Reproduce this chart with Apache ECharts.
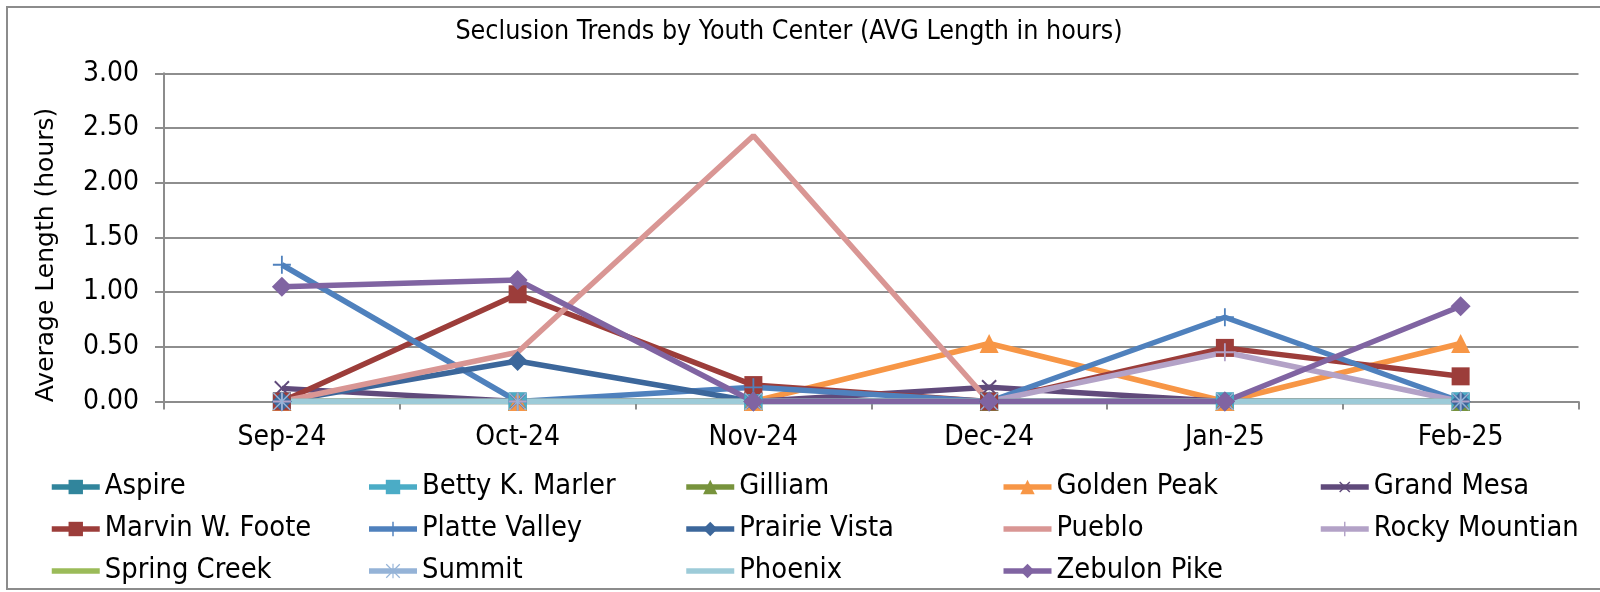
<!DOCTYPE html>
<html>
<head>
<meta charset="utf-8">
<script src="https://cdn.jsdelivr.net/npm/echarts@6/dist/echarts.min.js"></script>
<style>
html,body{margin:0;padding:0;background:#fff;}
#chart{width:1600px;height:592px;}
</style>
</head>
<body>
<div id="chart"></div>
<script>
const months = ['Sep-24', 'Oct-24', 'Nov-24', 'Dec-24', 'Jan-25', 'Feb-25'];
const yTicks = [0, 0.5, 1, 1.5, 2, 2.5, 3];

const aspire        = [0, 0, 0, 0, 0, 0];
const bettyKMarler  = [0, 0, 0, 0, 0, 0];
const gilliam       = [0, 0, 0, 0, 0, 0];
const goldenPeak    = [0, 0, 0, 0.53, 0, 0.53];
const grandMesa     = [0.12, 0, 0, 0.13, 0, 0];
const marvinWFoote  = [0, 0.98, 0.15, 0, 0.49, 0.23];
const platteValley  = [1.25, 0, 0.13, 0, 0.77, 0];
const prairieVista  = [0, 0.37, 0, 0, 0, 0];
const pueblo        = [0, 0.45, 2.43, 0, 0, 0];
const rockyMountain = [0, 0, 0, 0, 0.45, 0];
const springCreek   = [0, 0, 0, 0, 0, 0];
const summit        = [0, 0, 0, 0, 0, 0];
const phoenix       = [0, 0, 0, 0, 0, 0];
const zebulonPike   = [1.05, 1.11, 0, 0, 0, 0.87];

const seriesNames = ['Aspire', 'Betty K. Marler', 'Gilliam', 'Golden Peak', 'Grand Mesa',
  'Marvin W. Foote', 'Platte Valley', 'Prairie Vista', 'Pueblo', 'Rocky Mountian',
  'Spring Creek', 'Summit', 'Phoenix', 'Zebulon Pike'];
const seriesData = [aspire, bettyKMarler, gilliam, goldenPeak, grandMesa, marvinWFoote,
  platteValley, prairieVista, pueblo, rockyMountain, springCreek, summit, phoenix, zebulonPike];

const PLUS = 'path://M9,0H11V9H20V11H11V20H9V11H0V9H9Z';
const STAR = 'path://M9.2,0H10.8V20H9.2Z M0,1.2L1.2,0L20,18.8L18.8,20Z M18.8,0L20,1.2L1.2,20L0,18.8Z';
const styles = [
  {color: '#31859C', symbol: 'rect', size: 18},
  {color: '#4BACC6', symbol: 'rect', size: 18},
  {color: '#77933C', symbol: 'triangle', size: 19},
  {color: '#F79646', symbol: 'triangle', size: 19},
  {color: '#604A7B', symbol: PLUS, size: 20, rotate: 45},
  {color: '#9C3D3A', symbol: 'rect', size: 18},
  {color: '#4F81BD', symbol: PLUS, size: 18},
  {color: '#3C679B', symbol: 'diamond', size: 20},
  {color: '#D99694', symbol: 'none', size: 0},
  {color: '#B3A2C7', symbol: PLUS, size: 18},
  {color: '#9BBB59', symbol: 'none', size: 0},
  {color: '#95B3D7', symbol: STAR, size: 18},
  {color: '#9DCBD8', symbol: 'none', size: 0},
  {color: '#8064A2', symbol: 'diamond', size: 20}
];

const condensed = '"DejaVu Sans Condensed", "DejaVu Sans", sans-serif';

const series = seriesNames.map((name, i) => {
  const noMarker = styles[i].symbol === 'none';
  return {
    name: name,
    type: 'line',
    data: seriesData[i],
    symbol: noMarker ? 'line' : styles[i].symbol,
    symbolSize: noMarker ? 1 : styles[i].size,
    symbolRotate: styles[i].rotate || 0,
    showSymbol: !noMarker,
    showAllSymbol: true,
    lineStyle: {color: styles[i].color, width: 5.5},
    itemStyle: {color: styles[i].color, borderWidth: 0},
    emphasis: {disabled: true},
    animation: false
  };
});

// last legend column gets a narrower text box so five items fit on a row
const legendData = seriesNames.map((name, i) =>
  (i % 5 === 4) ? {name: name, textStyle: {width: 200}} : {name: name});

const chart = echarts.init(document.getElementById('chart'), null, {renderer: 'canvas'});
chart.setOption({
  animation: false,
  backgroundColor: '#ffffff',
  graphic: [{
    type: 'rect',
    shape: {x: 7, y: 7, width: 1620, height: 582},
    style: {fill: 'none', stroke: '#8c8c8c', lineWidth: 2},
    silent: true
  }, {
    type: 'text',
    x: 46,
    y: 255,
    rotation: Math.PI / 2,
    silent: true,
    style: {
      text: 'Average Length (hours)',
      font: '25px "DejaVu Sans", Verdana, sans-serif',
      fill: '#000',
      textAlign: 'center',
      textVerticalAlign: 'middle'
    }
  }],
  title: {
    text: 'Seclusion Trends by Youth Center (AVG Length in hours)',
    left: 784,
    top: 14,
    textAlign: 'center',
    textStyle: {fontFamily: condensed, fontSize: 26.6, fontWeight: 'normal', color: '#000'}
  },
  legend: {
    data: legendData,
    left: 49,
    top: 466,
    width: 1551,
    padding: 0,
    itemGap: 0,
    itemWidth: 48,
    itemHeight: 18,
    lineStyle: {width: 5.5},
    textStyle: {fontFamily: condensed, fontSize: 28.8, color: '#000', width: 261.5, lineHeight: 42}
  },
  grid: {left: 164, right: 21.5, top: 73.3, bottom: 190.5, containLabel: false},
  xAxis: {
    type: 'category',
    data: months,
    boundaryGap: true,
    axisLine: {lineStyle: {color: '#8c8c8c', width: 2}},
    axisTick: {show: true, interval: 0, length: 8, lineStyle: {color: '#8c8c8c', width: 2}},
    axisLabel: {fontFamily: condensed, fontSize: 28, color: '#000', margin: 22, interval: 0},
    splitLine: {show: false}
  },
  yAxis: {
    type: 'value',
    min: yTicks[0],
    max: yTicks[yTicks.length - 1],
    interval: 0.5,
    axisLine: {show: true, lineStyle: {color: '#8c8c8c', width: 2}},
    axisTick: {show: true, length: 9, lineStyle: {color: '#8c8c8c', width: 2}},
    axisLabel: {fontFamily: condensed, fontSize: 28, color: '#000', margin: 25,
      formatter: v => v.toFixed(2)},
    splitLine: {show: true, lineStyle: {color: '#8e8e8e', width: 2}}
  },
  series: series
});
</script>
</body>
</html>
